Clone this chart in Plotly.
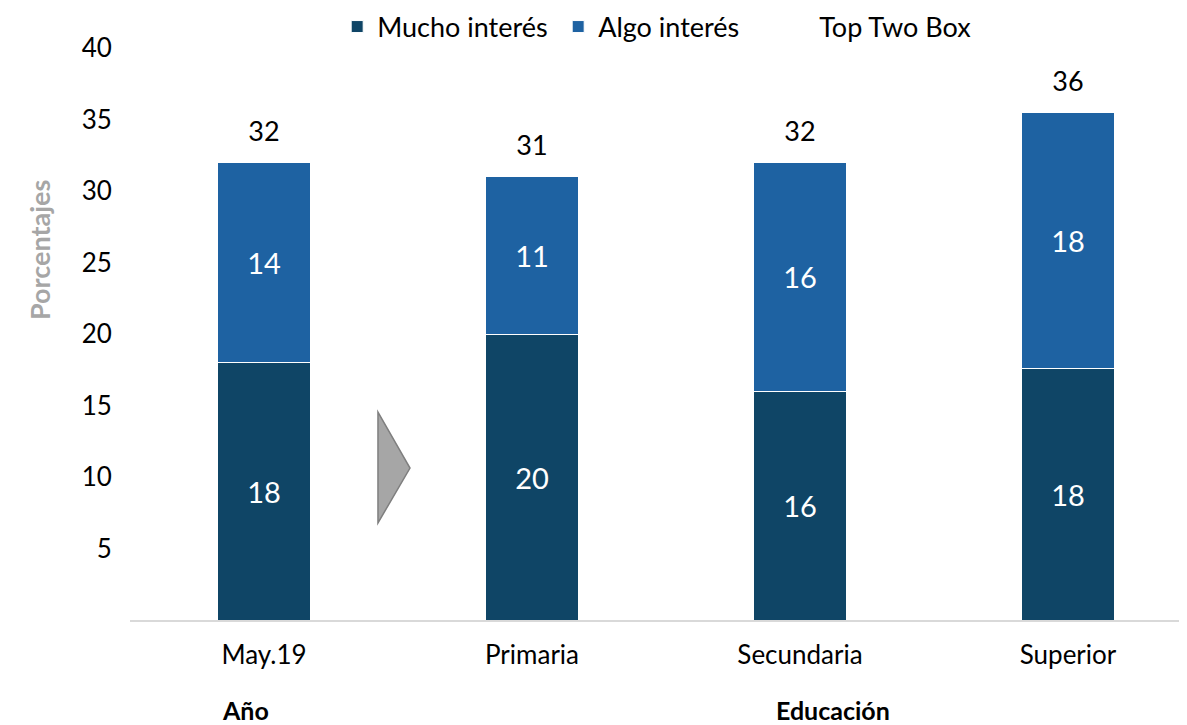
import plotly.graph_objects as go

categories = ["May.19", "Primaria", "Secundaria", "Superior"]
mucho = [18.0, 20.0, 16.0, 17.6]
algo = [14.0, 11.0, 16.0, 17.9]
mucho_labels = ["18", "20", "16", "18"]
algo_labels = ["14", "11", "16", "18"]
totals = [m + a for m, a in zip(mucho, algo)]
total_labels = ["32", "31", "32", "36"]
y_ticks = [5, 10, 15, 20, 25, 30, 35, 40]

FONT = "Lato"
fs_tick = 26
fs_leg = 27
fs_in = 29
fs_tot = 27

fig = go.Figure()
fig.add_trace(go.Bar(
    x=categories, y=mucho, name="Mucho interés",
    marker=dict(color="#0f4566", line=dict(color="white", width=1)),
    text=mucho_labels, textposition="inside", insidetextanchor="middle",
    textfont=dict(color="white", size=fs_in, family=FONT), width=0.35,
))
fig.add_trace(go.Bar(
    x=categories, y=algo, name="Algo interés",
    marker=dict(color="#1e62a2", line=dict(color="white", width=1)),
    text=algo_labels, textposition="inside", insidetextanchor="middle",
    textfont=dict(color="white", size=fs_in, family=FONT), width=0.35,
))
fig.add_trace(go.Scatter(
    x=categories, y=totals, name="Top Two Box", mode="markers+text",
    marker=dict(size=22, color="rgba(0,0,0,0)"),
    text=total_labels, textposition="top center",
    textfont=dict(color="black", size=fs_tot, family=FONT),
))

fig.update_layout(
    barmode="stack",
    width=1179, height=717,
    margin=dict(l=122, r=0, t=40, b=105, autoexpand=False),
    paper_bgcolor="white", plot_bgcolor="white",
    font=dict(family=FONT, size=fs_tick, color="black"),
    uniformtext=dict(minsize=fs_in, mode="show"),
    showlegend=True,
    legend=dict(orientation="h", x=0.196, y=1.0367, xanchor="left", yanchor="middle",
                font=dict(size=fs_leg, family=FONT), bgcolor="rgba(0,0,0,0)",
                traceorder="normal", entrywidth=176, entrywidthmode="pixels"),
    xaxis=dict(range=[-0.5, 3.444], showgrid=False, showline=True,
               linecolor="#d9d9d9", linewidth=2, ticks="outside", ticklen=11,
               tickcolor="rgba(0,0,0,0)", tickfont=dict(size=fs_tick)),
    yaxis=dict(range=[0, 40], tickvals=y_ticks, showgrid=False, showline=False,
               zeroline=False, ticks="outside", ticklen=12,
               tickcolor="rgba(0,0,0,0)", tickfont=dict(size=fs_tick)),
    shapes=[dict(type="path", xref="paper", yref="paper",
                 path="M 0.2346 0.3636 L 0.2649 0.2657 L 0.2346 0.1696 Z",
                 fillcolor="#a6a6a6", line=dict(color="#7f7f7f", width=1.5))],
    annotations=[
        dict(text="<b>Porcentajes</b>", xref="paper", yref="paper", x=-0.085, y=0.647,
             xanchor="center", yanchor="middle",
             textangle=-90, showarrow=False, font=dict(color="#a6a6a6", size=fs_leg)),
        dict(text="<b>Año</b>", xref="paper", yref="paper", x=0.1097, y=-0.157,
             xanchor="center", yanchor="middle",
             showarrow=False, font=dict(color="black", size=25)),
        dict(text="<b>Educación</b>", xref="paper", yref="paper", x=0.665, y=-0.157,
             xanchor="center", yanchor="middle",
             showarrow=False, font=dict(color="black", size=25)),
    ],
)

fig.write_html("out.html")
